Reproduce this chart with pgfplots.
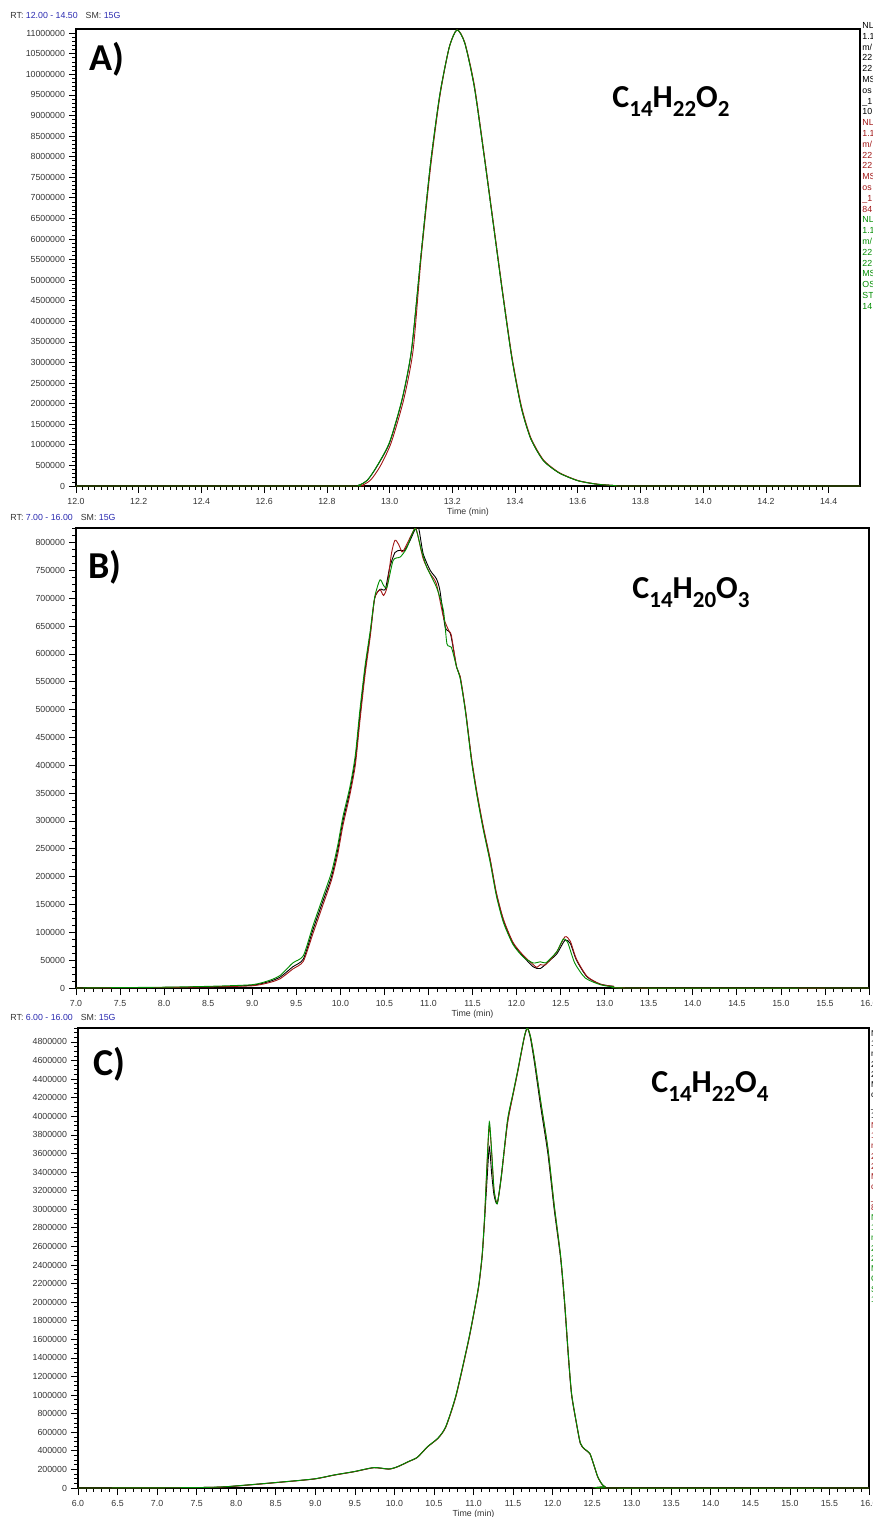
\documentclass[border=0pt]{standalone}
\usepackage{fontspec}
\setmainfont{Liberation Sans}
\newfontfamily\calib{Carlito}
\usepackage{pgfplots}
\pgfplotsset{compat=1.18}
\definecolor{trred}{HTML}{A01414}
\definecolor{trgreen}{HTML}{008C00}
\definecolor{rtblue}{HTML}{2A2AB0}

\newcommand{\tinyfont}{\fontsize{4.4}{5}\selectfont}
\newcommand{\panel}[1]{{\calib\bfseries\fontsize{19}{19}\selectfont #1}}
\newcommand{\sub}[1]{\raisebox{-4.5pt}{\fontsize{11.5}{11}\selectfont #1}}
\newcommand{\formula}[3]{{\calib\bfseries\fontsize{16}{16}\selectfont C\sub{14}H\sub{#1}O\sub{#2}}}

\pgfplotsset{
  chrom/.style={
    scale only axis, anchor=south west,
    axis line style={black, line width=0.6pt},
    tick align=outside, xtick pos=bottom, ytick pos=left,
    major tick length=3.5pt, minor tick length=1.8pt,
    every tick/.style={black, line width=0.35pt},
    tick label style={font=\tinyfont, text=black!80},
    /pgf/number format/assume math mode=true,
    scaled ticks=false,
    yticklabel style={xshift=1.5pt, /pgf/number format/.cd, fixed, precision=0, 1000 sep={}},
    xticklabel style={yshift=1pt, /pgf/number format/.cd, fixed, fixed zerofill, precision=1},
    xlabel={Time (min)},
    xlabel style={font=\tinyfont, text=black!80, yshift=5pt},
    ymin=0,
  },
  tr/.style={line width=0.45pt, no markers, smooth, tension=0.4},
}

\begin{document}
\begin{tikzpicture}

% ---------- A ----------
\node[anchor=base west, font=\tinyfont, text=black!80, inner sep=0] at (5pt,-9pt)
  {RT: \textcolor{rtblue}{12.00 - 14.50}\hspace{4pt}SM: \textcolor{rtblue}{15G}};
\begin{axis}[chrom, at={(38pt,-243pt)}, width=392pt, height=228.5pt,
  xmin=12, xmax=14.5, ymax=11100000,
  xtick={12.0,12.2,...,14.41}, minor x tick num=9,
  ytick distance=500000, minor y tick num=4]
\addplot[tr, black] coordinates {
 (12.0,0) (12.85,0) (12.90,15000) (12.93,150000) (12.96,480000) (13.00,1050000)
 (13.04,2100000) (13.07,3300000) (13.10,5600000) (13.13,7800000) (13.16,9500000)
 (13.19,10650000) (13.215,11080000) (13.24,10750000) (13.27,9700000) (13.30,8100000)
 (13.33,6400000) (13.36,4700000) (13.39,3100000) (13.42,1900000) (13.45,1150000)
 (13.49,620000) (13.54,320000) (13.60,130000) (13.66,45000) (13.72,10000) (13.77,0) (14.5,0)};
\addplot[tr, trred] coordinates {
 (12.0,0) (12.86,0) (12.91,15000) (12.94,150000) (12.97,480000) (13.005,1050000)
 (13.045,2100000) (13.075,3300000) (13.10,5500000) (13.13,7700000) (13.16,9450000)
 (13.19,10650000) (13.215,11080000) (13.24,10770000) (13.27,9750000) (13.30,8150000)
 (13.33,6450000) (13.36,4750000) (13.39,3150000) (13.42,1950000) (13.45,1180000)
 (13.49,640000) (13.54,330000) (13.60,135000) (13.66,48000) (13.72,10000) (13.77,0) (14.5,0)};
\addplot[tr, trgreen] coordinates {
 (12.0,0) (12.85,0) (12.90,15000) (12.93,150000) (12.96,490000) (13.00,1070000)
 (13.04,2120000) (13.07,3320000) (13.10,5600000) (13.13,7800000) (13.16,9500000)
 (13.19,10650000) (13.215,11080000) (13.24,10750000) (13.27,9700000) (13.30,8100000)
 (13.33,6400000) (13.36,4700000) (13.39,3100000) (13.42,1900000) (13.45,1150000)
 (13.49,620000) (13.54,320000) (13.60,130000) (13.66,45000) (13.72,10000) (13.77,0) (14.5,0)};
\end{axis}
\node[anchor=base west, inner sep=0] at (44.5pt,-35pt) {\panel{A)}};
\node[anchor=base west, inner sep=0] at (306pt,-53.5pt) {\formula{22}{2}{}};
\node[anchor=north west, align=left, inner sep=0, font=\fontsize{4.4}{5.4}\selectfont, text=black]
  at (431pt,-11pt) {NL\\1.1\\m/\\22\\22\\MS\\os\\\_1\\10};
\node[anchor=north west, align=left, inner sep=0, font=\fontsize{4.4}{5.4}\selectfont, text=trred]
  at (431pt,-59.6pt) {NL\\1.1\\m/\\22\\22\\MS\\os\\\_1\\84};
\node[anchor=north west, align=left, inner sep=0, font=\fontsize{4.4}{5.4}\selectfont, text=trgreen]
  at (431pt,-108.2pt) {NL\\1.1\\m/\\22\\22\\MS\\OS\\ST\\14};

% ---------- B ----------
\node[anchor=base west, font=\tinyfont, text=black!80, inner sep=0] at (5pt,-260pt)
  {RT: \textcolor{rtblue}{7.00 - 16.00}\hspace{4pt}SM: \textcolor{rtblue}{15G}};
\begin{axis}[chrom, at={(38pt,-494pt)}, width=396.5pt, height=230pt,
  xmin=7, xmax=16, ymax=826000,
  xtick distance=0.5, minor x tick num=4,
  ytick distance=50000, minor y tick num=3]
\addplot[tr, black] coordinates {
 (7.0,0) (8.0,1000) (8.5,2000) (9.0,5000) (9.2,12000) (9.32,20000) (9.46,38000)
 (9.58,52000) (9.69,105000) (9.80,155000) (9.90,200000) (9.97,248000) (10.03,300000)
 (10.11,355000) (10.17,409000) (10.22,486000) (10.28,570000) (10.34,637000)
 (10.39,700000) (10.45,716000) (10.51,716000) (10.56,755000) (10.62,782000)
 (10.68,786000) (10.73,786000) (10.79,803000) (10.85,824000) (10.89,825000)
 (10.94,780000) (11.02,750000) (11.09,735000) (11.13,714000) (11.19,648000)
 (11.25,636000) (11.32,576000) (11.36,558000) (11.42,498000) (11.49,409000)
 (11.55,349000) (11.62,289000) (11.70,230000) (11.77,170000) (11.85,122000)
 (11.96,80000) (12.08,56000) (12.19,38000) (12.27,35000) (12.38,50000) (12.46,62000)
 (12.55,86000) (12.61,80000) (12.68,50000) (12.80,20000) (12.95,7000) (13.10,3000)
 (13.3,0) (16,0)};
\addplot[tr, trred] coordinates {
 (7.0,0) (8.0,1000) (8.5,2000) (9.0,4000) (9.2,10000) (9.32,17000) (9.46,34000)
 (9.58,48000) (9.69,98000) (9.80,148000) (9.90,194000) (9.97,240000) (10.03,292000)
 (10.11,348000) (10.17,400000) (10.22,476000) (10.28,562000) (10.34,632000)
 (10.39,700000) (10.45,715000) (10.49,705000) (10.53,720000) (10.58,780000)
 (10.62,804000) (10.66,797000) (10.70,783000) (10.73,789000) (10.83,821000)
 (10.86,825000) (10.94,771000) (11.02,744000) (11.09,726000) (11.17,666000)
 (11.23,642000) (11.26,633000) (11.32,576000) (11.36,560000) (11.42,500000)
 (11.49,412000) (11.55,352000) (11.62,292000) (11.70,232000) (11.77,172000)
 (11.85,124000) (11.96,82000) (12.08,58000) (12.19,42000) (12.23,37000) (12.27,42000)
 (12.32,41000) (12.38,50000) (12.46,66000) (12.55,92000) (12.61,84000) (12.68,52000)
 (12.80,21000) (12.95,7000) (13.10,3000) (13.3,0) (16,0)};
\addplot[tr, trgreen] coordinates {
 (7.0,0) (8.0,1500) (8.5,3000) (9.0,6000) (9.2,14000) (9.32,23000) (9.46,45000)
 (9.58,58000) (9.69,112000) (9.80,162000) (9.90,208000) (9.97,256000) (10.03,308000)
 (10.11,362000) (10.17,418000) (10.22,496000) (10.28,578000) (10.34,642000)
 (10.39,702000) (10.45,733000) (10.49,723000) (10.53,720000) (10.60,768000)
 (10.68,774000) (10.75,789000) (10.85,825000) (10.92,786000) (10.98,756000)
 (11.09,720000) (11.17,678000) (11.21,618000) (11.26,612000) (11.32,576000)
 (11.36,556000) (11.42,496000) (11.49,406000) (11.55,346000) (11.62,286000)
 (11.70,226000) (11.77,166000) (11.85,118000) (11.96,78000) (12.08,55000)
 (12.19,45000) (12.27,47000) (12.33,45000) (12.38,52000) (12.46,66000) (12.53,88000)
 (12.58,82000) (12.66,45000) (12.78,18000) (12.95,6000) (13.10,2000) (13.3,0) (16,0)};
\end{axis}
\node[anchor=base west, inner sep=0] at (44pt,-289pt) {\panel{B)}};
\node[anchor=base west, inner sep=0] at (316pt,-299pt) {\formula{20}{3}{}};

% ---------- C ----------
\node[anchor=base west, font=\tinyfont, text=black!80, inner sep=0] at (5pt,-510pt)
  {RT: \textcolor{rtblue}{6.00 - 16.00}\hspace{4pt}SM: \textcolor{rtblue}{15G}};
\begin{axis}[chrom, at={(39pt,-744pt)}, width=395.5pt, height=230pt,
  xmin=6, xmax=16, ymax=4950000,
  xtick distance=0.5, minor x tick num=4,
  ytick distance=200000, minor y tick num=3]
\addplot[tr, black] coordinates {
 (6.0,0) (7.0,2000) (7.5,5000) (7.8,10000) (8.0,22000) (8.48,57000) (8.98,97000)
 (9.24,140000) (9.49,176000) (9.74,219000) (9.93,204000) (10.04,229000) (10.18,285000)
 (10.29,330000) (10.42,445000) (10.55,535000) (10.65,660000) (10.78,1000000)
 (10.94,1600000) (11.03,2000000) (11.07,2200000) (11.11,2500000) (11.14,2880000)
 (11.17,3300000) (11.20,3670000) (11.23,3380000) (11.26,3150000) (11.30,3060000)
 (11.35,3350000) (11.43,3940000) (11.50,4240000) (11.56,4490000) (11.64,4840000)
 (11.68,4950000) (11.72,4840000) (11.77,4580000) (11.85,4100000) (11.94,3600000)
 (12.02,3000000) (12.10,2480000) (12.15,2000000) (12.20,1400000) (12.24,1000000)
 (12.30,700000) (12.35,480000) (12.40,420000) (12.47,370000) (12.52,250000)
 (12.57,120000) (12.62,45000) (12.66,14000) (12.72,0) (16.0,0)};
\addplot[tr, trred] coordinates {
 (6.0,0) (7.0,2000) (7.5,5000) (7.8,10000) (8.0,21000) (8.48,56000) (8.98,96000)
 (9.24,139000) (9.49,175000) (9.74,218000) (9.93,203000) (10.04,228000) (10.18,284000)
 (10.29,329000) (10.42,443000) (10.55,533000) (10.65,655000) (10.78,990000)
 (10.94,1590000) (11.03,1990000) (11.07,2190000) (11.11,2500000) (11.14,2900000)
 (11.17,3450000) (11.20,3900000) (11.23,3600000) (11.26,3200000) (11.30,3070000)
 (11.35,3330000) (11.43,3920000) (11.50,4230000) (11.56,4480000) (11.64,4840000)
 (11.68,4950000) (11.72,4860000) (11.77,4620000) (11.85,4150000) (11.94,3650000)
 (12.02,3040000) (12.10,2500000) (12.15,2020000) (12.20,1420000) (12.24,1010000)
 (12.30,705000) (12.35,485000) (12.40,422000) (12.47,372000) (12.52,252000)
 (12.57,122000) (12.62,46000) (12.66,14000) (12.72,0) (16.0,0)};
\addplot[tr, trgreen] coordinates {
 (6.0,0) (7.0,2000) (7.5,5000) (7.8,11000) (8.0,23000) (8.48,58000) (8.98,98000)
 (9.24,141000) (9.49,177000) (9.74,220000) (9.93,205000) (10.04,230000) (10.18,286000)
 (10.29,331000) (10.42,446000) (10.55,537000) (10.65,662000) (10.78,1005000)
 (10.94,1605000) (11.03,2005000) (11.07,2210000) (11.11,2520000) (11.14,2920000)
 (11.17,3480000) (11.20,3940000) (11.23,3620000) (11.26,3210000) (11.30,3060000)
 (11.35,3340000) (11.43,3960000) (11.50,4250000) (11.56,4500000) (11.64,4850000)
 (11.68,4950000) (11.72,4860000) (11.77,4620000) (11.85,4160000) (11.94,3660000)
 (12.02,3050000) (12.10,2510000) (12.15,2030000) (12.20,1430000) (12.24,1020000)
 (12.30,710000) (12.35,488000) (12.40,424000) (12.47,374000) (12.52,254000)
 (12.57,124000) (12.62,47000) (12.66,15000) (12.72,0) (16.0,0)};
\end{axis}
\node[anchor=base west, inner sep=0] at (46.5pt,-537.5pt) {\panel{C)}};
\node[anchor=base west, inner sep=0] at (325.5pt,-546pt) {\formula{22}{4}{}};
\node[anchor=north west, align=left, inner sep=0, font=\fontsize{4.2}{5.15}\selectfont, text=black]
  at (435.3pt,-515pt) {NL\\1.1\\m/\\22\\22\\MS\\os\\\_1\\10};
\node[anchor=north west, align=left, inner sep=0, font=\fontsize{4.2}{5.15}\selectfont, text=trred]
  at (435.3pt,-561pt) {NL\\1.1\\m/\\22\\22\\MS\\os\\\_1\\84};
\node[anchor=north west, align=left, inner sep=0, font=\fontsize{4.2}{5.15}\selectfont, text=trgreen]
  at (435.3pt,-607pt) {NL\\1.1\\m/\\22\\22\\MS\\OS\\ST\\14};

\pgfresetboundingbox
\useasboundingbox (0,0) rectangle (436.5pt,-758.5pt);
\end{tikzpicture}
\end{document}
